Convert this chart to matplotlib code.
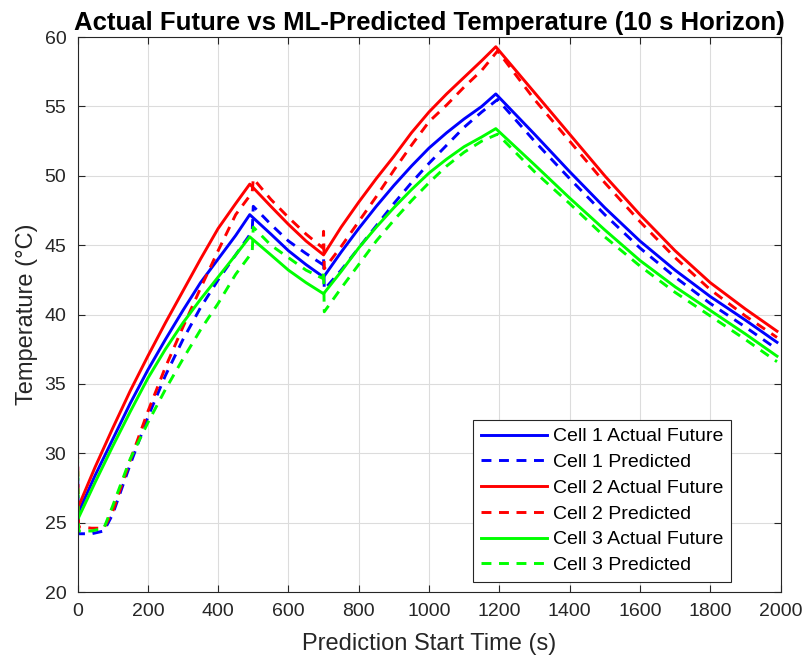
import matplotlib
matplotlib.use("Agg")
import matplotlib.pyplot as plt

plt.rcParams['font.family'] = ['Liberation Sans', 'DejaVu Sans']

# prediction start times (s) for the actual future temperature
t_act = [0, 50, 100, 150, 200, 250, 300, 350, 400, 450, 490,
         550, 600, 650, 700, 750, 800, 850, 900, 950, 1000, 1050,
         1100, 1150, 1190, 1300, 1400, 1500, 1600, 1700, 1800, 1900, 1990]
cell1_act = [25.6, 28.4, 31.0, 33.6, 36.0, 38.2, 40.3, 42.3, 44.0, 45.7, 47.2,
             45.8, 44.6, 43.6, 42.7, 44.5, 46.2, 47.8, 49.3, 50.7, 52.0, 53.1,
             54.1, 55.0, 55.9, 53.0, 50.3, 47.7, 45.3, 43.2, 41.3, 39.6, 38.0]
cell2_act = [26.0, 29.0, 31.8, 34.5, 37.0, 39.4, 41.7, 44.0, 46.2, 48.0, 49.4,
             47.8, 46.5, 45.3, 44.3, 46.3, 48.1, 49.8, 51.4, 53.1, 54.6, 55.9,
             57.1, 58.3, 59.3, 56.0, 53.0, 50.0, 47.2, 44.6, 42.3, 40.4, 38.8]
cell3_act = [25.2, 27.9, 30.5, 33.0, 35.4, 37.5, 39.4, 41.1, 42.7, 44.3, 45.6,
             44.3, 43.2, 42.3, 41.5, 43.1, 44.8, 46.3, 47.7, 49.0, 50.2, 51.2,
             52.1, 52.8, 53.4, 50.8, 48.4, 46.1, 43.9, 42.0, 40.3, 38.6, 37.0]

# ML predictions (10 s horizon)
t_pred = [0, 3, 40, 75, 100, 150, 200, 250, 300, 350, 400, 450, 497, 500,
          550, 600, 650, 698, 700, 702, 750, 800, 850, 900, 950, 1000, 1050,
          1100, 1150, 1195, 1300, 1400, 1500, 1600, 1700, 1800, 1900, 1990]
cell1_pred = [29.5, 24.2, 24.2, 24.4, 25.6, 29.2, 32.6, 35.6, 38.2, 40.5, 42.5, 44.3, 46.0, 47.8,
              46.5, 45.3, 44.4, 43.6, 44.1, 41.8, 43.2, 44.8, 46.4, 48.0, 49.5, 50.9, 52.2,
              53.5, 54.6, 55.5, 52.5, 49.8, 47.2, 44.8, 42.7, 40.8, 39.1, 37.5]
cell2_pred = [30.3, 24.7, 24.6, 24.6, 25.8, 29.5, 33.0, 36.2, 39.1, 41.9, 44.6, 47.2, 48.8, 49.8,
              48.3, 47.0, 45.8, 44.8, 46.0, 43.3, 44.9, 46.7, 48.5, 50.4, 52.2, 53.9, 55.1,
              56.4, 57.6, 59.0, 55.5, 52.5, 49.5, 46.7, 44.1, 41.8, 39.9, 38.35]
cell3_pred = [30.0, 24.4, 24.4, 24.6, 26.2, 29.6, 32.2, 34.6, 36.8, 38.9, 40.8, 42.9, 44.5, 46.3,
              45.0, 44.1, 43.2, 42.6, 43.2, 40.2, 41.9, 43.6, 45.3, 46.8, 48.2, 49.5, 50.7,
              51.7, 52.5, 53.0, 50.3, 48.0, 45.6, 43.5, 41.6, 39.9, 38.2, 36.6]

fig = plt.figure(figsize=(8.1, 6.64), dpi=100)
ax = fig.add_axes([0.0957, 0.1084, 0.8679, 0.8358])

lw = 2.1
dash = (0, (3.4, 2.6))
ax.plot(t_act, cell1_act, color=(0, 0, 1), lw=lw, label="Cell 1 Actual Future")
ax.plot(t_pred, cell1_pred, color=(0, 0, 1), lw=lw, ls=dash, label="Cell 1 Predicted")
ax.plot(t_act, cell2_act, color=(1, 0, 0), lw=lw, label="Cell 2 Actual Future")
ax.plot(t_pred, cell2_pred, color=(1, 0, 0), lw=lw, ls=dash, label="Cell 2 Predicted")
ax.plot(t_act, cell3_act, color=(0, 1, 0), lw=lw, label="Cell 3 Actual Future")
ax.plot(t_pred, cell3_pred, color=(0, 1, 0), lw=lw, ls=dash, label="Cell 3 Predicted")

ax.set_xlim(0, 2000)
ax.set_ylim(20, 60)
ax.set_xticks(range(0, 2001, 200))
ax.set_yticks(range(20, 61, 5))

axcol = "#262626"
for s in ax.spines.values():
    s.set_color(axcol)
    s.set_linewidth(0.8)
ax.tick_params(direction="in", top=True, right=True, colors=axcol,
               labelsize=14, length=5, width=0.8, pad=8)
ax.grid(True, color="#dcdcdc", lw=0.8)
ax.set_axisbelow(True)

ax.set_xlabel("Prediction Start Time (s)", fontsize=17, color=axcol, labelpad=9)
ax.set_ylabel("Temperature (°C)", fontsize=17, color=axcol, labelpad=5)
ax.set_title("Actual Future vs ML-Predicted Temperature (10 s Horizon)",
             fontsize=18.5, fontweight="bold", color="black", pad=5)

leg = ax.legend(loc="lower right", bbox_to_anchor=(0.9296, 0.018), borderaxespad=0,
                fontsize=14, handlelength=3.4, labelspacing=0.42, fancybox=False,
                framealpha=1, edgecolor=axcol, borderpad=0.4, handletextpad=0.3)
leg.get_frame().set_linewidth(0.8)

fig.savefig("out.png", dpi=100)
